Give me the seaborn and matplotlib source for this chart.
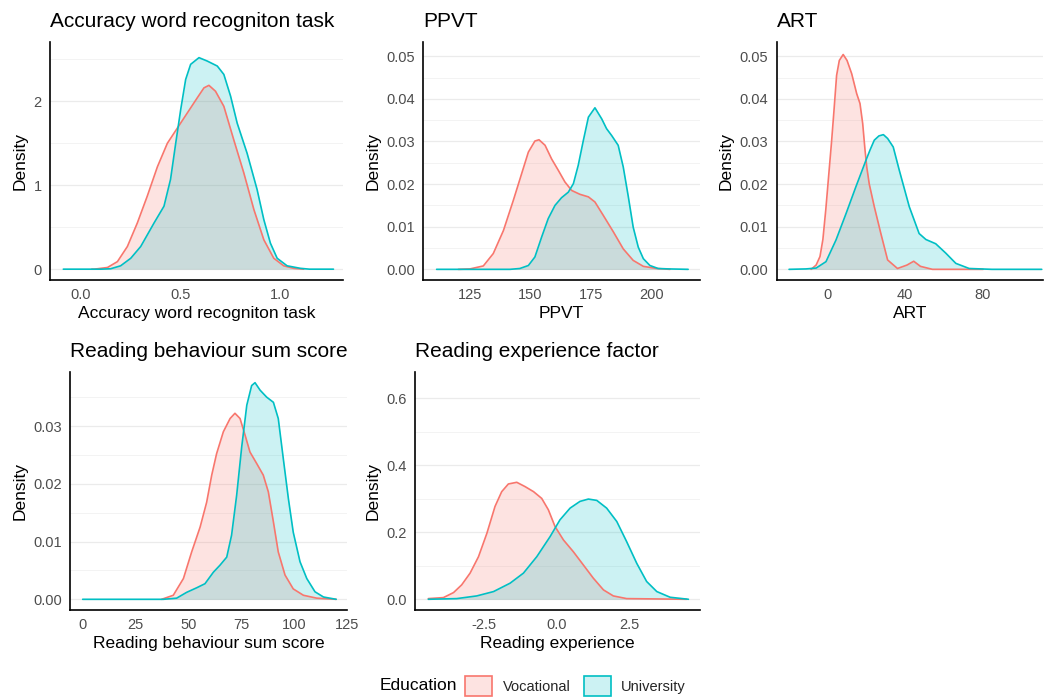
import numpy as np
import pandas as pd
import matplotlib
matplotlib.use("Agg")
import matplotlib.pyplot as plt
from matplotlib.patches import Patch
from matplotlib.ticker import MultipleLocator, FormatStrFormatter
import seaborn as sns

sns.set_theme(style="white")
plt.rcParams["font.family"] = ["Liberation Sans", "DejaVu Sans"]

groups = ["Vocational", "University"]
palette = {"Vocational": "#F8766D", "University": "#00BFC4"}

# ---- Accuracy word recognition task ----
acc_voc_x = [0.055, 0.067, 0.134, 0.184, 0.234, 0.284, 0.334, 0.385, 0.435, 0.485, 0.535,
             0.585, 0.619, 0.644, 0.677, 0.719, 0.769, 0.819, 0.870, 0.920, 0.970, 1.020,
             1.070, 1.120]
acc_voc_y = [0.0, 0.0, 0.02, 0.09, 0.27, 0.55, 0.87, 1.22, 1.50, 1.68, 1.86,
             2.04, 2.16, 2.19, 2.12, 1.94, 1.54, 1.15, 0.71, 0.35, 0.13, 0.04,
             0.01, 0.0]
acc_uni_x = [-0.088, 0.10, 0.15, 0.20, 0.251, 0.301, 0.368, 0.418, 0.451, 0.477, 0.502,
             0.527, 0.552, 0.594, 0.635, 0.686, 0.719, 0.753, 0.786, 0.836, 0.886, 0.920,
             0.953, 0.987, 1.037, 1.104, 1.15, 1.27]
acc_uni_y = [0.0, 0.0, 0.005, 0.04, 0.13, 0.27, 0.55, 0.75, 1.07, 1.50, 1.90,
             2.26, 2.44, 2.52, 2.48, 2.42, 2.32, 2.06, 1.74, 1.38, 0.95, 0.59,
             0.31, 0.13, 0.04, 0.01, 0.0, 0.0]

# ---- PPVT ----
ppvt_voc_x = [120.2, 125.0, 130.5, 134.6, 138.8, 142.9, 146.3, 149.1, 151.8, 153.5, 156.0,
              158.7, 161.5, 164.2, 167.0, 170.4, 173.9, 176.6, 180.0, 184.2, 188.3, 192.4,
              196.6, 202.0, 207.6]
ppvt_voc_y = [0.0, 0.0001, 0.0008, 0.0037, 0.0091, 0.0162, 0.0224, 0.0275, 0.0301, 0.0304,
              0.0291, 0.0259, 0.0232, 0.0205, 0.0185, 0.0176, 0.017, 0.0158, 0.0127, 0.0088,
              0.0048, 0.0021, 0.0007, 0.0002, 0.0]
ppvt_uni_x = [111.2, 141.5, 145.6, 149.1, 151.8, 154.6, 157.3, 160.1, 162.8, 165.6, 167.7,
              169.7, 171.8, 173.9, 176.6, 179.4, 181.4, 183.5, 186.2, 188.3, 190.4, 192.4,
              194.5, 196.6, 199.3, 202.7, 207.0, 215.1]
ppvt_uni_y = [0.0, 0.0, 0.0002, 0.0009, 0.0029, 0.0076, 0.0119, 0.015, 0.0168, 0.0181, 0.0201,
              0.0244, 0.0302, 0.0357, 0.0379, 0.0353, 0.033, 0.0314, 0.0291, 0.024, 0.017,
              0.0099, 0.0052, 0.0025, 0.0009, 0.0002, 0.0001, 0.0]

# ---- ART ----
art_voc_x = [-8.6, -6.0, -4.0, -2.5, -1.0, 0.5, 2.0, 3.2, 4.6, 6.0, 8.0, 10.0, 12.4, 15.0,
             16.7, 18.1, 19.3, 20.2, 21.5, 24.1, 27.5, 31.0, 36.1, 41.0, 44.5, 48.0,
             54.2, 65.0, 80.4]
art_voc_y = [0.0, 0.001, 0.003, 0.007, 0.014, 0.022, 0.030, 0.037, 0.0455, 0.049, 0.0504,
             0.049, 0.0459, 0.0412, 0.0389, 0.0342, 0.028, 0.024, 0.020, 0.0147, 0.0084,
             0.0022, 0.0002, 0.001, 0.0019, 0.0007, 0.0, 0.0, 0.0]
art_uni_x = [-20.0, -11.2, -6.0, -0.9, 4.3, 9.5, 14.6, 19.8, 21.9, 24.1, 26.5, 28.8, 31.0,
             33.9, 37.0, 42.2, 47.3, 50.8, 55.9, 61.1, 66.3, 73.2, 85.0, 110.7]
art_uni_y = [0.0, 0.0001, 0.0003, 0.0018, 0.0069, 0.0131, 0.0194, 0.0256, 0.028, 0.0303,
             0.0313, 0.0316, 0.0307, 0.0287, 0.0233, 0.0147, 0.0084, 0.007, 0.006, 0.0038,
             0.0014, 0.0002, 0.0, 0.0]

# ---- Reading behaviour sum score ----
rb_voc_x = [37.4, 42.9, 47.7, 51.6, 55.6, 58.7, 61.1, 63.4, 66.6, 69.8, 72.1, 74.5, 76.9,
            79.2, 82.4, 85.5, 87.9, 90.3, 92.6, 95.8, 99.7, 104.5, 110.8, 120.0]
rb_voc_y = [0.0, 0.0007, 0.0036, 0.0082, 0.0125, 0.0168, 0.0215, 0.0252, 0.029, 0.0313,
            0.0322, 0.0313, 0.0284, 0.0255, 0.0235, 0.0215, 0.0186, 0.0134, 0.0082, 0.0042,
            0.0018, 0.0007, 0.0002, 0.0]
rb_uni_x = [0.0, 38.2, 44.5, 49.2, 54.0, 57.9, 61.9, 65.0, 68.2, 70.5, 72.9, 75.3, 77.7,
            80.0, 81.6, 84.0, 87.1, 90.3, 92.6, 95.0, 97.4, 99.7, 102.9, 106.1, 110.0,
            114.0, 120.0]
rb_uni_y = [0.0, 0.0, 0.0002, 0.0012, 0.002, 0.0027, 0.0047, 0.0059, 0.0073, 0.0111, 0.018,
            0.0264, 0.0336, 0.037, 0.0375, 0.0362, 0.035, 0.0341, 0.0313, 0.0243, 0.0174,
            0.0116, 0.0065, 0.0036, 0.0013, 0.0004, 0.0]

# ---- Reading experience factor ----
re_voc_x = [-4.43, -3.91, -3.56, -3.28, -2.99, -2.70, -2.41, -2.13, -1.90, -1.67, -1.38,
            -1.09, -0.80, -0.52, -0.29, -0.06, 0.23, 0.57, 0.92, 1.26, 1.61, 1.95, 2.41, 4.48]
re_voc_y = [0.002, 0.005, 0.02, 0.043, 0.078, 0.127, 0.197, 0.277, 0.321, 0.344, 0.349,
            0.336, 0.321, 0.301, 0.267, 0.217, 0.177, 0.142, 0.102, 0.063, 0.028, 0.010,
            0.002, 0.0]
re_uni_x = [-4.43, -3.45, -2.76, -2.18, -1.61, -1.15, -0.69, -0.23, 0.11, 0.46, 0.80, 1.09,
            1.38, 1.72, 2.07, 2.41, 2.76, 3.10, 3.45, 3.91, 4.54]
re_uni_y = [0.0, 0.002, 0.01, 0.023, 0.048, 0.078, 0.127, 0.187, 0.237, 0.272, 0.292, 0.299,
            0.295, 0.272, 0.232, 0.172, 0.107, 0.053, 0.023, 0.006, 0.0]

W, H = 1044, 697
fig = plt.figure(figsize=(W / 100, H / 100), dpi=100)


def px_axes(left, right, top, bottom):
    return fig.add_axes([left / W, 1 - bottom / H, (right - left) / W, (bottom - top) / H])


def density_panel(ax, curves, title, xlabel, xlim, ylim, xticks, xticklabels,
                  ymajor, yminor, yfmt):
    for grp, (xs, ys) in zip(groups, curves):
        df = pd.DataFrame({"x": xs, "density": ys})
        ax.fill_between(df["x"], 0, df["density"], color=palette[grp], alpha=0.2,
                        linewidth=0)
        sns.lineplot(data=df, x="x", y="density", color=palette[grp], ax=ax,
                     linewidth=1.2, sort=True, estimator=None)
    ax.set_xlim(*xlim)
    ax.set_ylim(*ylim)
    ax.set_xticks(xticks)
    ax.set_xticklabels(xticklabels)
    ax.yaxis.set_major_locator(MultipleLocator(ymajor))
    ax.yaxis.set_minor_locator(MultipleLocator(yminor))
    ax.yaxis.set_major_formatter(FormatStrFormatter(yfmt))
    ax.grid(axis="y", which="major", color="#EBEBEB", linewidth=0.9)
    ax.grid(axis="y", which="minor", color="#F3F3F3", linewidth=0.7)
    ax.grid(axis="x", visible=False)
    ax.set_axisbelow(True)
    for side in ["top", "right"]:
        ax.spines[side].set_visible(False)
    for side in ["left", "bottom"]:
        ax.spines[side].set_color("black")
        ax.spines[side].set_linewidth(1.2)
    ax.tick_params(axis="both", which="both", length=0, labelsize=10.5,
                   labelcolor="#4D4D4D")
    ax.tick_params(axis="x", pad=6)
    ax.tick_params(axis="y", pad=6)
    ax.set_title(title, loc="left", fontsize=15, color="black", pad=10.5)
    ax.set_xlabel(xlabel, fontsize=12.5, color="black", labelpad=2.5)
    ax.set_ylabel("Density", fontsize=12.5, color="black", labelpad=4)


ax1 = px_axes(50, 343, 41.7, 280)
density_panel(ax1, [(acc_voc_x, acc_voc_y), (acc_uni_x, acc_uni_y)],
              "Accuracy word recogniton task", "Accuracy word recogniton task",
              (-0.155, 1.318), (-0.129, 2.71), [0.0, 0.5, 1.0], ["0.0", "0.5", "1.0"],
              1, 0.5, "%d")

ax2 = px_axes(423.3, 700, 41.7, 280)
density_panel(ax2, [(ppvt_voc_x, ppvt_voc_y), (ppvt_uni_x, ppvt_uni_y)],
              "PPVT", "PPVT", (105.7, 220.0), (-0.0025, 0.0534),
              [125, 150, 175, 200], ["125", "150", "175", "200"], 0.01, 0.005, "%.2f")

ax3 = px_axes(776.7, 1043, 41.7, 280)
density_panel(ax3, [(art_voc_x, art_voc_y), (art_uni_x, art_uni_y)],
              "ART", "ART", (-26.4, 111.4), (-0.0025, 0.0534),
              [0, 40, 80], ["0", "40", "80"], 0.01, 0.005, "%.2f")

ax4 = px_axes(70, 346.7, 371.7, 610)
density_panel(ax4, [(rb_voc_x, rb_voc_y), (rb_uni_x, rb_uni_y)],
              "Reading behaviour sum score", "Reading behaviour sum score",
              (-6.0, 125.0), (-0.00185, 0.0394),
              [0, 25, 50, 75, 100, 125], ["0", "25", "50", "75", "100", "125"],
              0.01, 0.005, "%.2f")

ax5 = px_axes(415, 700, 371.7, 610)
density_panel(ax5, [(re_voc_x, re_voc_y), (re_uni_x, re_uni_y)],
              "Reading experience factor", "Reading experience",
              (-4.89, 4.94), (-0.032, 0.679),
              [-2.5, 0.0, 2.5], ["-2.5", "0.0", "2.5"], 0.2, 0.1, "%.1f")

# Legend along the bottom
fig.text(380 / W, 1 - 686 / H, "Education", fontsize=12.5, color="black",
         ha="left", va="center")
handles = [Patch(facecolor=matplotlib.colors.to_rgba(palette[g], 0.2),
                 edgecolor=palette[g], linewidth=1.2, label=g) for g in groups]
fig.legend(handles=handles, loc="center", bbox_to_anchor=(575.5 / W, 1 - 686 / H),
           ncol=2, frameon=False, fontsize=10.5, handlelength=1.85, handleheight=1.7,
           handletextpad=0.7, columnspacing=0.9, borderpad=0, borderaxespad=0)

fig.savefig("out.png", dpi=100)
